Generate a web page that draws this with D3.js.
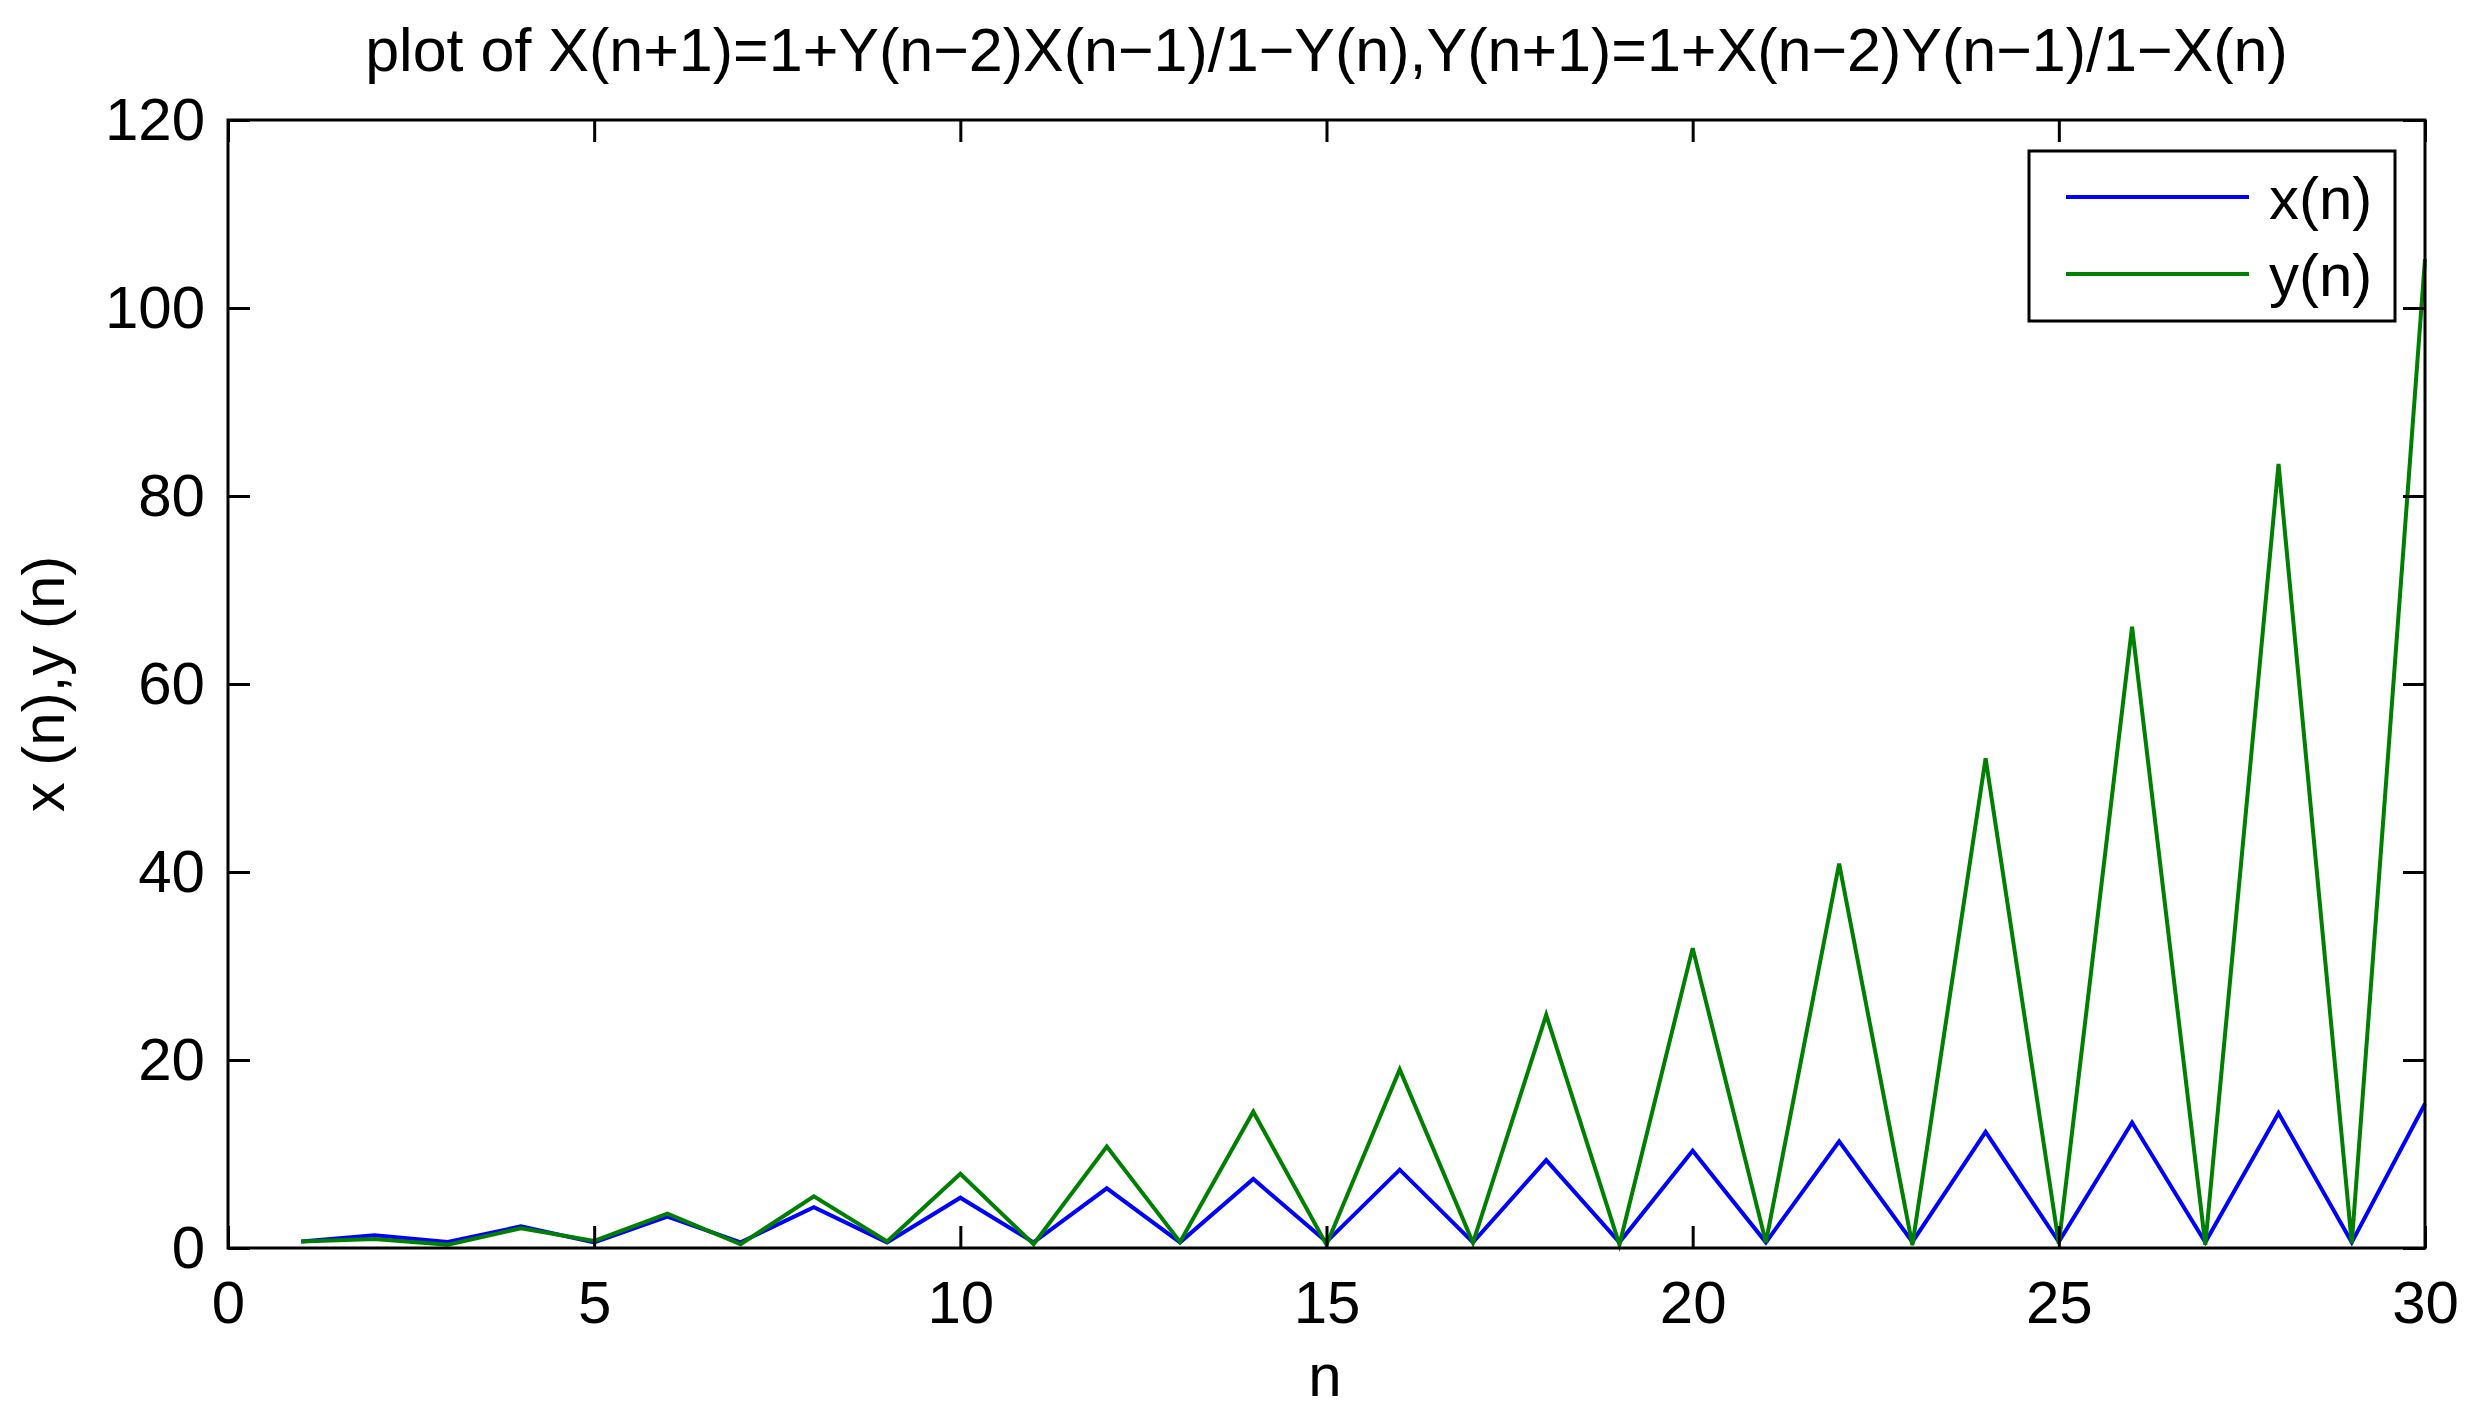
<!DOCTYPE html>
<html>
<head>
<meta charset="utf-8">
<script src="https://cdn.jsdelivr.net/npm/d3@7"></script>
<style>
  html, body { margin: 0; padding: 0; background: #ffffff; }
  svg { display: block; }
  text { font-family: "Liberation Sans", Arial, Helvetica, sans-serif; fill: #000; }
</style>
</head>
<body>
<svg id="chart" width="2468" height="1417"></svg>
<script>
// ---- data ----
const nValues = [1,2,3,4,5,6,7,8,9,10,11,12,13,14,15,16,17,18,19,20,21,22,23,24,25,26,27,28,29,30];
const xSeries = [0.7,1.35,0.65,2.3,0.6,3.35,0.6,4.35,0.6,5.35,0.6,6.35,0.6,7.35,0.65,8.33,0.6,9.35,0.6,10.35,0.6,11.35,0.65,12.35,0.65,13.35,0.6,14.35,0.6,15.35];
const ySeries = [0.7,0.95,0.35,2.1,0.75,3.65,0.4,5.5,0.7,7.9,0.4,10.8,0.65,14.5,0.35,19.0,0.55,24.8,0.35,31.9,0.6,40.9,0.3,52.1,0.45,66.1,0.35,83.4,0.5,105.2];
const xTicks = [0,5,10,15,20,25,30];
const yTicks = [0,20,40,60,80,100,120];
const seriesNames = ["x(n)", "y(n)"];
const seriesColors = ["#0000ff", "#008000"];
const titleText = "plot of X(n+1)=1+Y(n\u22122)X(n\u22121)/1\u2212Y(n),Y(n+1)=1+X(n\u22122)Y(n\u22121)/1\u2212X(n)";
const xLabelText = "n";
const yLabelText = "x (n),y (n)";

// ---- layout ----
const svg = d3.select("#chart");
const plotLeft = 228, plotRight = 2425, plotTop = 120, plotBottom = 1248;
const fontSize = 60;

const x = d3.scaleLinear().domain([0, 30]).range([plotLeft, plotRight]);
const y = d3.scaleLinear().domain([0, 120]).range([plotBottom, plotTop]);

// lines
const line = d3.line().x(d => x(d[0])).y(d => y(d[1]));
const allSeries = [xSeries, ySeries];
allSeries.forEach((vals, i) => {
  svg.append("path")
    .datum(nValues.map((n, j) => [n, vals[j]]))
    .attr("d", line)
    .attr("fill", "none")
    .attr("stroke", seriesColors[i])
    .attr("stroke-width", 4)
    .attr("stroke-linejoin", "miter");
});

// axes
function styleAxis(g) {
  g.select(".domain").remove();
  g.selectAll(".tick line").attr("stroke", "#000").attr("stroke-width", 3);
  g.selectAll(".tick text")
    .attr("font-size", fontSize)
    .attr("font-family", "'Liberation Sans', Arial, Helvetica, sans-serif")
    .attr("fill", "#000");
}
svg.append("g").attr("transform", `translate(0,${plotBottom})`)
  .call(d3.axisBottom(x).tickValues(xTicks).tickSize(-22).tickPadding(32).tickFormat(d3.format("d")))
  .call(styleAxis);
svg.append("g").attr("transform", `translate(0,${plotTop})`)
  .call(d3.axisTop(x).tickValues(xTicks).tickSize(-22).tickFormat(""))
  .call(styleAxis);
svg.append("g").attr("transform", `translate(${plotLeft},0)`)
  .call(d3.axisLeft(y).tickValues(yTicks).tickSize(-22).tickPadding(23).tickFormat(d3.format("d")))
  .call(styleAxis);
svg.append("g").attr("transform", `translate(${plotRight},0)`)
  .call(d3.axisRight(y).tickValues(yTicks).tickSize(-22).tickFormat(""))
  .call(styleAxis);

// frame
svg.append("rect")
  .attr("x", plotLeft).attr("y", plotTop)
  .attr("width", plotRight - plotLeft).attr("height", plotBottom - plotTop)
  .attr("fill", "none").attr("stroke", "#000").attr("stroke-width", 3);

// title
svg.append("text")
  .attr("x", (plotLeft + plotRight) / 2).attr("y", 71)
  .attr("text-anchor", "middle")
  .attr("font-size", 61)
  .text(titleText);

// axis labels
svg.append("text")
  .attr("x", 1325).attr("y", 1396)
  .attr("text-anchor", "middle")
  .attr("font-size", fontSize)
  .text(xLabelText);
svg.append("text")
  .attr("transform", `translate(64,${(plotTop + plotBottom) / 2}) rotate(-90)`)
  .attr("text-anchor", "middle")
  .attr("font-size", fontSize)
  .text(yLabelText);

// legend
const lg = svg.append("g");
lg.append("rect")
  .attr("x", 2029).attr("y", 151).attr("width", 366).attr("height", 170)
  .attr("fill", "#fff").attr("stroke", "#000").attr("stroke-width", 3);
seriesNames.forEach((name, i) => {
  const ly = 197 + i * 77;
  lg.append("line")
    .attr("x1", 2066).attr("x2", 2249).attr("y1", ly).attr("y2", ly)
    .attr("stroke", seriesColors[i]).attr("stroke-width", 4);
  lg.append("text")
    .attr("x", 2269).attr("y", ly + 22)
    .attr("font-size", fontSize)
    .text(name);
});
</script>
</body>
</html>
